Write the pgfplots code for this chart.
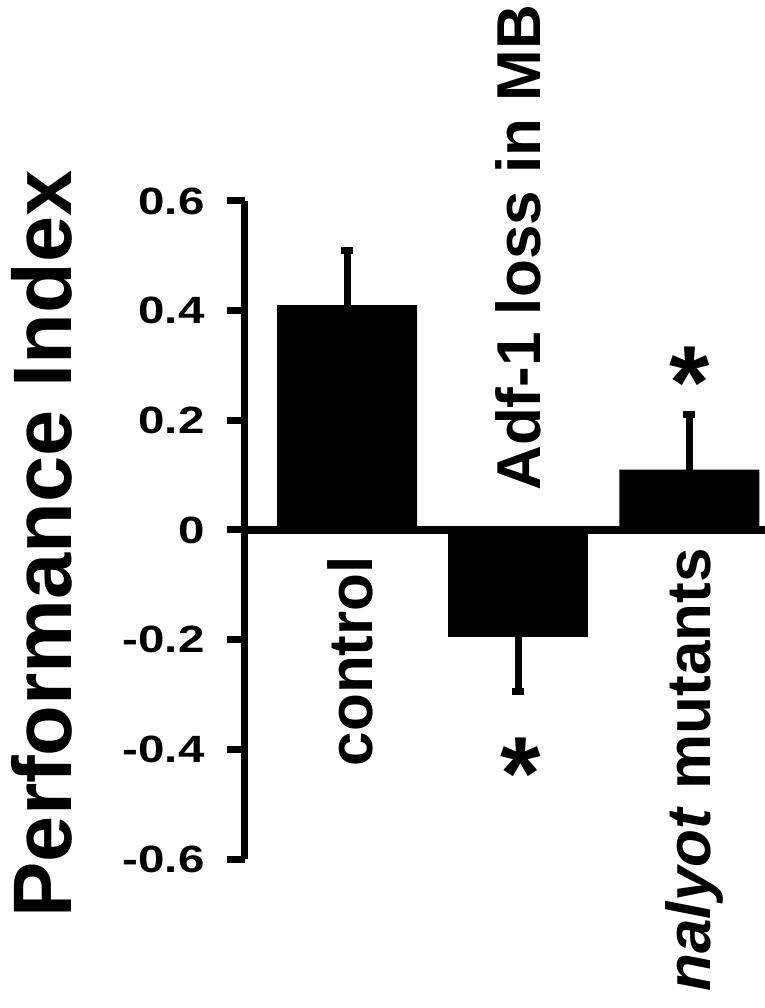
\documentclass[border=0pt]{standalone}
\usepackage{pgfplots}
\pgfplotsset{compat=1.18}
\usepackage{fontspec}
\setmainfont{Liberation Sans}

\begin{document}
\begin{tikzpicture}
\begin{axis}[
    scale only axis, width=260pt, height=329pt,
    xmin=-0.596, xmax=2.441, ymin=-0.6, ymax=0.6,
    axis y line=left, axis x line=middle,
    x axis line style={-, line width=4pt},
    y axis line style={-, line width=3.5pt},
    xtick=\empty,
    ytick={-0.6,-0.4,-0.2,0,0.2,0.4,0.6},
    yticklabels={-0.6,-0.4,-0.2,0,0.2,0.4,0.6},
    hide obscured y ticks=false,
    tick align=outside, major tick length=9pt,
    tick style={line width=3.5pt, black},
    yticklabel style={font=\fontsize{19}{22}\selectfont\bfseries, xshift=-11pt, xscale=1.25, inner sep=0pt, anchor=east},
    ylabel={Performance Index},
    ylabel style={font=\fontsize{41.5}{48}\selectfont\bfseries, at={(axis description cs:-0.3327,0.479)}, anchor=base, inner sep=0pt},
    clip=false,
    ybar, bar width=70pt, bar shift=0pt,
]
% bars above zero: error bars go up
\addplot[fill=black, draw=none,
    error bars/.cd, y dir=plus, y explicit,
    error bar style={line width=3.5pt, black},
    error mark options={rotate=90, line width=3.5pt, black, mark size=3pt}]
    coordinates {(0,0.41) +- (0,0.10) (2,0.11) +- (0,0.10)};
% bar below zero: error bar goes down
\addplot[fill=black, draw=none,
    error bars/.cd, y dir=minus, y explicit,
    error bar style={line width=3.5pt, black},
    error mark options={rotate=90, line width=3.5pt, black, mark size=3pt}]
    coordinates {(1,-0.195) +- (0,0.10)};

\node[rotate=90, anchor=base east, inner sep=0pt, font=\fontsize{31}{36}\selectfont\bfseries]
    at (axis cs:0.146,-0.047) {control};
\node[rotate=90, anchor=base west, inner sep=0pt, font=\fontsize{31}{36}\selectfont\bfseries]
    at (axis cs:1.131,0.071) {Adf-1 loss in MB};
\node[rotate=90, anchor=base east, inner sep=0pt, font=\fontsize{31}{36}\selectfont\bfseries]
    at (axis cs:2.12,-0.033) {\textit{nalyot} mutants};
\node[anchor=base, inner sep=0pt, font=\fontsize{52}{60}\selectfont\bfseries]
    at (axis cs:1.015,-0.51) {*};
\node[anchor=base, inner sep=0pt, font=\fontsize{52}{60}\selectfont\bfseries]
    at (axis cs:2.0,0.203) {*};

\coordinate (bl) at (rel axis cs:0,0);
\end{axis}
\pgfresetboundingbox
\path[use as bounding box] ([shift={(-122.5pt,-74.5pt)}]bl) rectangle ([shift={(260pt,429.5pt)}]bl);
\end{tikzpicture}
\end{document}
